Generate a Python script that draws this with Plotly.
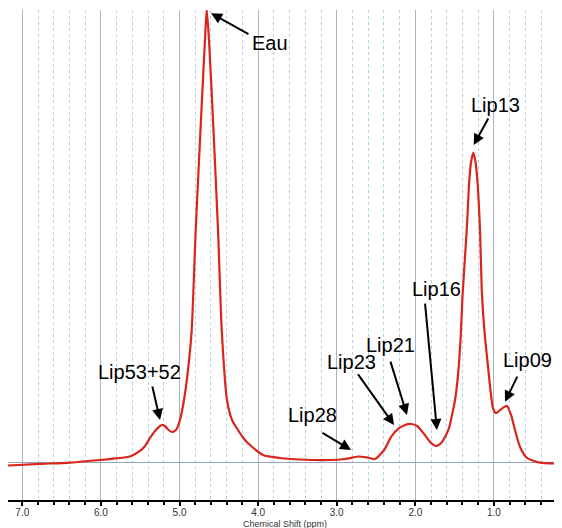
import plotly.graph_objects as go

# Chemical shift (ppm) and intensity (arbitrary units)
shift_ppm = [7.182, 6.775, 6.393, 6.011, 5.821, 5.630, 5.503, 5.439, 5.376, 5.312,
             5.248, 5.216, 5.185, 5.146, 5.096, 5.045, 4.994, 4.943, 4.892, 4.845,
             4.794, 4.727, 4.676, 4.654, 4.625, 4.574, 4.510, 4.463, 4.396, 4.332,
             4.256, 4.179, 4.103, 3.938, 3.721, 3.467, 3.085, 2.894, 2.716, 2.614,
             2.512, 2.397, 2.308, 2.219, 2.130, 2.054, 1.977, 1.888, 1.812, 1.735,
             1.672, 1.622, 1.571, 1.533, 1.495, 1.457, 1.425, 1.399, 1.346, 1.313,
             1.291, 1.262, 1.234, 1.211, 1.177, 1.155, 1.122, 1.071, 1.037, 1.012,
             0.974, 0.923, 0.837, 0.782, 0.732, 0.668, 0.579, 0.413, 0.134]
intensity = [-0.55, -0.2, 0.1, 0.66, 1.0, 1.43, 2.65, 3.75, 5.52, 7.06,
             8.17, 8.39, 8.17, 7.40, 6.84, 7.28, 9.49, 13.9, 20.5, 29.4,
             51.4, 75.7, 93.4, 100.2, 93.4, 75.7, 51.4, 29.4, 13.9, 9.49,
             7.28, 5.30, 3.97, 1.77, 1.10, 0.77, 0.66, 0.88, 1.43, 1.21,
             0.88, 2.87, 5.74, 7.51, 8.39, 8.61, 8.17, 6.40, 4.64, 3.75,
             4.42, 5.74, 7.73, 10.6, 13.9, 19.4, 27.2, 37.1, 51.4, 62.5,
             66.4, 68.5, 66.4, 62.5, 51.4, 38.2, 29.4, 20.5, 15.0, 12.1,
             11.0, 11.7, 12.6, 10.6, 7.28, 3.53, 1.10, 0.07, -0.11]

# Peak labels: text, arrow head (ppm, int), arrow tail (ppm, int), text centre (ppm, int)
peak_labels = ["Eau", "Lip13", "Lip16", "Lip21", "Lip23", "Lip28", "Lip53+52", "Lip09"]
head_ppm = [4.599, 1.257, 1.725, 2.106, 2.271, 2.818, 5.248, 0.859]
head_int = [99.3, 70.2, 7.28, 10.6, 8.39, 2.87, 9.49, 13.5]
tail_ppm = [4.103, 1.062, 1.878, 2.322, 2.742, 3.200, 5.350, 0.694]
tail_int = [94.5, 76.4, 35.5, 22.7, 19.9, 6.84, 17.2, 19.4]
text_ppm = [3.849, 0.986, 1.725, 2.310, 2.818, 3.302, 5.503, 0.567]
text_int = [92.7, 79.0, 38.4, 26.0, 22.3, 10.6, 20.1, 22.7]

tick_vals = [7.0, 6.0, 5.0, 4.0, 3.0, 2.0, 1.0]
tick_text = ["7.0", "6.0", "5.0", "4.0", "3.0", "2.0", "1.0"]
x_title = "Chemical Shift (ppm)"

fig = go.Figure()
fig.add_trace(go.Scatter(x=shift_ppm, y=intensity, mode="lines",
                         line=dict(color="#d8261c", width=2.2, shape="spline", smoothing=0.6),
                         hoverinfo="skip", showlegend=False))

# dark dotted reference grid line at 5.0 ppm
fig.add_shape(type="line", xref="x", yref="paper", x0=5.0, x1=5.0, y0=0, y1=1,
              line=dict(color="#5b4a42", width=1, dash="dot"), layer="below")

for i, lab in enumerate(peak_labels):
    fig.add_annotation(x=head_ppm[i], y=head_int[i], ax=tail_ppm[i], ay=tail_int[i],
                       xref="x", yref="y", axref="x", ayref="y", text="",
                       showarrow=True, arrowhead=2, arrowsize=1.1, arrowwidth=2,
                       arrowcolor="black")
    fig.add_annotation(x=text_ppm[i], y=text_int[i], xref="x", yref="y", text=lab,
                       showarrow=False, font=dict(family="Liberation Sans, Arial", size=20,
                                                  color="black"))

# axis title (placed below tick labels)
fig.add_annotation(x=0.5, y=0, xref="paper", yref="paper", yshift=-24, yanchor="middle",
                   text=x_title, showarrow=False, borderpad=0,
                   font=dict(family="Liberation Sans, Arial", size=9, color="#333333"))

fig.update_layout(
    width=554, height=520,
    margin=dict(l=0, r=0, t=2, b=28, autoexpand=False),
    paper_bgcolor="white", plot_bgcolor="white",
    font=dict(family="Liberation Sans, Arial", size=10, color="#333333"),
    xaxis=dict(range=[7.182, 0.134], tickvals=tick_vals, ticktext=tick_text,
               showgrid=True, gridcolor="#a7b4c2", gridwidth=1,
               showline=True, linecolor="black", linewidth=1.5,
               ticks="outside", ticklen=4, tickcolor="black", tickwidth=1.5,
               ticklabelstandoff=-2,
               tickfont=dict(size=10, color="#333333"),
               minor=dict(dtick=0.2, tick0=0, showgrid=True, gridcolor="#aed2e2",
                          griddash="dot", gridwidth=1, ticks="outside", ticklen=3,
                          tickcolor="black", tickwidth=1.5),
               automargin=False, zeroline=False),
    yaxis=dict(range=[-8.17, 100], showgrid=False, showticklabels=False, ticks="",
               zeroline=True, zerolinecolor="#93a7b8", zerolinewidth=1, showline=False,
               automargin=False),
)

fig.write_html("out.html")
